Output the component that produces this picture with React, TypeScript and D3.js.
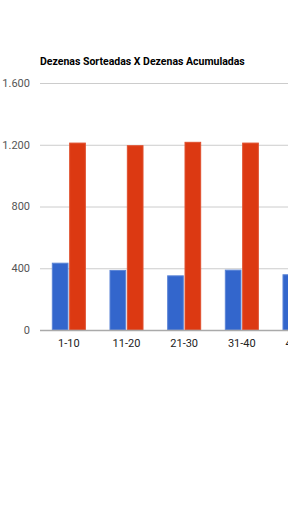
import { useEffect } from 'react';
import * as d3 from 'd3';

const categories = ['1-10', '11-20', '21-30', '31-40', '41-50', '51-60'];
const sorteadas = [436, 389, 354, 391, 361, 380];
const acumuladas = [1214, 1197, 1219, 1214, 1210, 1205];
const yTicks = [0, 400, 800, 1200, 1600];
const seriesNames = ['Dezenas Sorteadas', 'Dezenas Acumuladas'];
const seriesColors = ['#3366cc', '#dc3912'];
const seriesStrokes = ['#5c85d6', '#e0502e'];

const width = 288;
const height = 512;
const left = 40;
const plotRight = 386;
const top = 83;
const bottom = 330;

const ptBR = d3.formatLocale({ decimal: ',', thousands: '.', grouping: [3], currency: ['R$', ''] });
const fmt = ptBR.format(',d');

export default function App() {
  useEffect(() => {
    document.body.style.margin = '0';
  }, []);

  const x = d3.scaleBand<string>().domain(categories).range([left, plotRight]).paddingInner(0.41).paddingOuter(0.205);
  const xs = d3.scaleBand<string>().domain(seriesNames).range([0, x.bandwidth()]).paddingInner(0.04);
  const y = d3.scaleLinear().domain([0, 1600]).range([bottom, top]);
  const series = [sorteadas, acumuladas];

  return (
    <svg width={width} height={height} style={{ display: 'block', fontFamily: 'Roboto, Arial, sans-serif' }}>
      <text x={40} y={65} fontSize={10.5} fontWeight="bold" fill="#000">
        Dezenas Sorteadas X Dezenas Acumuladas
      </text>

      {/* grid */}
      {yTicks.map((t) => (
        <g key={t}>
          {t > 0 && (
            <line x1={left} x2={plotRight} y1={y(t) + 0.5} y2={y(t) + 0.5} stroke="#cccccc" strokeWidth={1} />
          )}
          <text x={30} y={y(t)} dy="0.35em" textAnchor="end" fontSize={11} fill="#555">
            {fmt(t)}
          </text>
        </g>
      ))}

      {/* bars */}
      {categories.map((c, i) => (
        <g key={c} transform={`translate(${x(c)},0)`}>
          {series.map((vals, s) => (
            <rect
              key={s}
              x={xs(seriesNames[s])! + 0.5}
              y={y(vals[i]) + 0.5}
              width={xs.bandwidth() - 1}
              height={bottom - y(vals[i]) - 0.5}
              fill={seriesColors[s]}
              stroke={seriesStrokes[s]}
              strokeWidth={1}
            />
          ))}
          <text x={x.bandwidth() / 2} y={347} textAnchor="middle" fontSize={11} fill="#222">
            {c}
          </text>
        </g>
      ))}

      {/* baseline */}
      <line x1={left} x2={plotRight} y1={bottom + 0.5} y2={bottom + 0.5} stroke="#aaaaaa" strokeWidth={1.5} />
    </svg>
  );
}
